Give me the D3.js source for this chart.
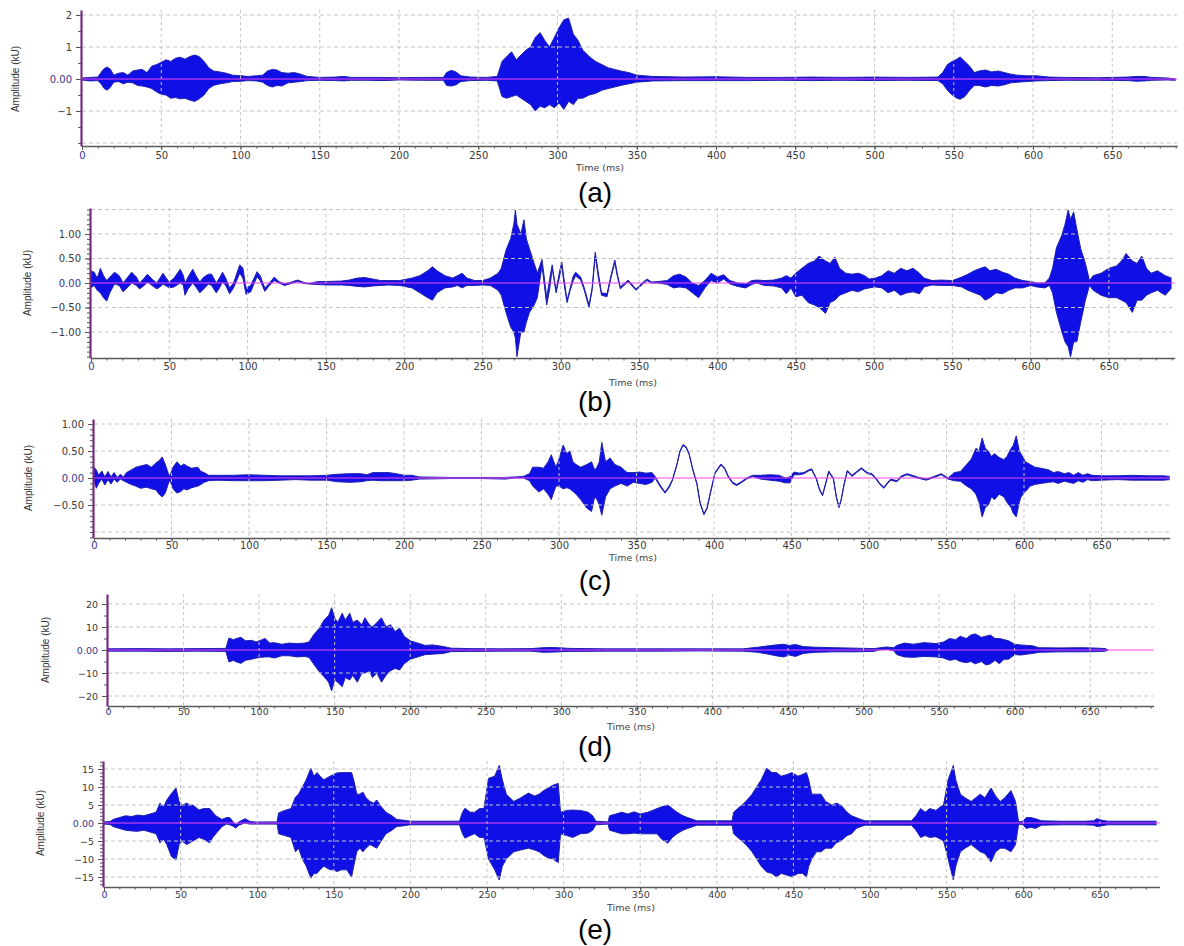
<!DOCTYPE html>
<html>
<head>
<meta charset="utf-8">
<script src="https://cdn.jsdelivr.net/npm/d3@7"></script>
<style>
  body { margin: 0; background: #fff; }
  svg { display: block; }
</style>
</head>
<body>
<div id="chart"></div>
<script>
// envelopes: [time ms, upper, lower]
var waveA = [
 [0,0.03,-0.03],[5,0.05,-0.06],[10,0.06,-0.05],[12,0.2,-0.15],[14,0.33,-0.3],[16,0.37,-0.35],[18,0.3,-0.25],[20,0.12,-0.1],[23,0.18,-0.08],[26,0.2,-0.15],[29,0.12,-0.1],[32,0.25,-0.12],[35,0.28,-0.2],[38,0.3,-0.22],[41,0.2,-0.25],[44,0.4,-0.3],[47,0.45,-0.4],[50,0.52,-0.48],[53,0.6,-0.5],[56,0.55,-0.6],[59,0.65,-0.58],[62,0.68,-0.62],[65,0.62,-0.6],[68,0.7,-0.66],[71,0.75,-0.7],[74,0.7,-0.62],[77,0.55,-0.5],[80,0.35,-0.3],[83,0.25,-0.2],[87,0.22,-0.15],[91,0.18,-0.12],[95,0.12,-0.08],[100,0.1,-0.07],[105,0.08,-0.05],[110,0.1,-0.06],[114,0.12,-0.1],[117,0.25,-0.2],[120,0.3,-0.25],[123,0.28,-0.2],[126,0.2,-0.22],[130,0.18,-0.12],[134,0.2,-0.1],[138,0.15,-0.08],[142,0.08,-0.05],[150,0.05,-0.04],[160,0.06,-0.05],[165,0.08,-0.06],[170,0.05,-0.04],[180,0.05,-0.04],[190,0.05,-0.05],[200,0.04,-0.03],[215,0.05,-0.04],[228,0.05,-0.04],[230,0.2,-0.2],[233,0.27,-0.22],[236,0.22,-0.18],[239,0.1,-0.08],[245,0.06,-0.05],[255,0.05,-0.04],[262,0.08,-0.06],[265,0.55,-0.55],[268,0.7,-0.6],[271,0.85,-0.55],[274,0.6,-0.5],[277,0.75,-0.6],[280,0.9,-0.7],[283,1.0,-0.8],[286,1.3,-1.0],[289,1.45,-0.85],[292,1.2,-0.9],[295,1.0,-0.8],[298,1.3,-0.9],[301,1.6,-0.75],[304,1.85,-0.95],[307,1.9,-0.7],[310,1.4,-0.8],[313,1.2,-0.6],[316,0.9,-0.6],[320,0.7,-0.5],[324,0.55,-0.45],[328,0.45,-0.35],[332,0.35,-0.3],[336,0.3,-0.25],[340,0.25,-0.2],[345,0.2,-0.15],[350,0.12,-0.1],[360,0.08,-0.06],[380,0.06,-0.05],[400,0.07,-0.05],[420,0.05,-0.05],[440,0.05,-0.04],[460,0.06,-0.05],[480,0.05,-0.04],[500,0.06,-0.05],[520,0.05,-0.04],[540,0.06,-0.05],[543,0.2,-0.15],[546,0.45,-0.35],[549,0.55,-0.5],[552,0.62,-0.6],[554,0.69,-0.63],[557,0.55,-0.55],[560,0.4,-0.35],[563,0.2,-0.2],[566,0.25,-0.2],[570,0.28,-0.25],[574,0.22,-0.2],[578,0.25,-0.22],[582,0.2,-0.18],[586,0.15,-0.12],[590,0.12,-0.1],[596,0.1,-0.08],[602,0.1,-0.06],[610,0.06,-0.05],[620,0.05,-0.04],[640,0.04,-0.04],[660,0.06,-0.05],[665,0.08,-0.07],[670,0.08,-0.06],[675,0.05,-0.04],[685,0.03,-0.03],[690,0.0,-0.04]
];

var waveB = [
 [0,0.25,-0.1],[2,0.22,-0.05],[4,0.1,-0.15],[6,0.3,-0.2],[8,0.15,-0.3],[10,0.05,-0.37],[12,0.12,-0.2],[15,0.22,-0.02],[18,0.15,-0.05],[20.5,0.0,-0.18],[23,0.1,-0.1],[26,0.22,0.0],[29,0.12,-0.05],[31,0.0,-0.12],[34,0.1,-0.05],[36,0.18,0.02],[39,0.08,-0.05],[42,0.0,-0.12],[44,0.1,-0.08],[46,0.2,-0.02],[48,0.1,-0.06],[50,0.02,-0.1],[53,0.1,-0.08],[57,0.28,0.0],[59,0.15,-0.05],[60,0.0,-0.25],[62,0.12,-0.12],[65,0.28,0.0],[67,0.15,-0.08],[69.5,0.02,-0.2],[72,0.12,-0.12],[75,0.18,-0.02],[77,0.18,-0.05],[80,0.0,-0.2],[82,0.1,-0.1],[84,0.22,0.02],[86,0.1,-0.05],[88.5,-0.1,-0.22],[91,0.0,-0.1],[95,0.37,0.2],[97,0.3,0.1],[99,-0.1,-0.23],[102,-0.05,-0.18],[106,0.23,0.13],[108,0.15,0.05],[111,-0.1,-0.17],[114,0.0,-0.05],[117,0.12,0.05],[120,0.03,0.0],[123.6,-0.02,-0.05],[128,0.02,-0.01],[132,0.06,0.03],[136,0.01,-0.01],[139,-0.01,-0.02],[145,0.03,-0.03],[150,0.03,-0.04],[160,0.04,-0.04],[165,0.06,-0.05],[170,0.1,-0.07],[175,0.11,-0.08],[180,0.08,-0.06],[185,0.05,-0.05],[190,0.05,-0.04],[197,0.05,-0.05],[205,0.1,-0.1],[210,0.15,-0.2],[215,0.25,-0.3],[218,0.33,-0.35],[221,0.25,-0.2],[226,0.15,-0.1],[231,0.1,-0.08],[234,0.15,-0.05],[237,0.2,-0.1],[240,0.1,-0.05],[245,0.05,-0.05],[250,0.05,-0.04],[255,0.1,-0.05],[260,0.2,-0.15],[262,0.3,-0.25],[265,0.67,-0.6],[268,0.91,-0.9],[270,1.2,-1.0],[271,1.49,-1.12],[272,1.2,-1.5],[274.5,1.0,-1.0],[276.5,1.29,-1.0],[278,0.9,-0.8],[280,0.7,-0.6],[283,0.4,-0.45],[285,0.2,-0.3],[288,0.48,0.35],[289.5,0.1,-0.05],[291,-0.3,-0.45],[293,0.1,-0.1],[294.5,0.37,0.3],[296,0.05,0.0],[297,-0.15,-0.2],[299,0.2,0.1],[300.6,0.43,0.35],[302,0.1,0.0],[304,-0.35,-0.4],[306,-0.1,-0.15],[308,0.15,0.05],[309.5,0.22,0.15],[312.7,0.12,0.06],[315,-0.1,-0.15],[318,-0.45,-0.5],[320,-0.1,-0.15],[322,0.63,0.55],[324,0.2,0.1],[326,-0.2,-0.25],[329.5,-0.22,-0.28],[332,0.15,0.1],[334.5,0.47,0.42],[336,0.2,0.15],[338,-0.08,-0.12],[343,0.06,0.03],[348,-0.12,-0.15],[352,0.0,-0.03],[355,0.08,0.05],[358,0.02,0.0],[362,0.03,0.0],[368,0.05,-0.03],[372,0.15,-0.1],[376,0.18,-0.08],[380,0.12,-0.1],[384,0.0,-0.2],[388,-0.05,-0.3],[392,0.05,-0.1],[396,0.2,0.05],[400,0.12,0.0],[404,0.17,0.08],[408,0.05,-0.02],[413,0.0,-0.07],[418,-0.02,-0.1],[422,0.05,-0.03],[425,0.06,0.0],[430,0.05,-0.05],[436,0.06,-0.06],[441,0.1,-0.1],[444,0.15,-0.22],[447,0.1,-0.1],[450,0.2,-0.28],[454,0.3,-0.25],[458,0.4,-0.4],[462,0.45,-0.45],[465,0.55,-0.5],[469,0.45,-0.62],[472,0.4,-0.4],[475,0.53,-0.35],[478,0.3,-0.25],[482,0.2,-0.2],[486,0.18,-0.15],[490,0.2,-0.18],[494,0.15,-0.12],[497,0.08,-0.1],[501,0.1,-0.08],[505,0.15,-0.1],[509,0.25,-0.2],[513,0.2,-0.15],[517,0.3,-0.25],[521,0.25,-0.2],[525,0.3,-0.18],[529,0.2,-0.22],[532,0.1,-0.08],[537,0.05,-0.04],[543,0.06,-0.05],[550,0.05,-0.05],[556,0.12,-0.08],[560,0.18,-0.15],[564,0.25,-0.2],[568,0.3,-0.25],[571,0.33,-0.35],[574,0.25,-0.3],[578,0.28,-0.2],[582,0.22,-0.22],[586,0.18,-0.15],[590,0.1,-0.1],[595,0.05,-0.1],[600,0.03,-0.05],[604,0.0,-0.08],[609,0.0,-0.1],[612,0.1,-0.05],[614,0.3,-0.2],[616.5,0.72,-0.6],[620,0.98,-1.0],[622,1.2,-1.2],[624,1.49,-1.3],[625.5,1.3,-1.51],[627.5,1.45,-1.2],[629.5,1.1,-1.2],[632,0.7,-0.8],[635,0.4,-0.35],[637.6,0.05,-0.05],[640,0.15,-0.15],[645,0.2,-0.25],[650,0.3,-0.3],[655,0.35,-0.3],[658,0.45,-0.35],[661,0.6,-0.4],[665,0.45,-0.6],[668,0.4,-0.35],[671,0.55,-0.35],[674,0.3,-0.25],[677,0.2,-0.2],[681,0.25,-0.15],[686,0.15,-0.25],[690,0.1,-0.1]
];

var waveC = [
 [0,0.2,-0.05],[1.5,0.15,-0.19],[3,0.05,-0.1],[5,0.13,-0.02],[7,0.02,-0.13],[9,0.12,-0.03],[11,0.02,-0.11],[13,0.1,-0.02],[15,0.01,-0.08],[17,0.07,-0.02],[19,0.02,-0.05],[21,0.1,-0.08],[24,0.15,-0.12],[27,0.2,-0.15],[30,0.22,-0.19],[34,0.25,-0.17],[37,0.2,-0.2],[40,0.28,-0.22],[42,0.32,-0.3],[44,0.39,-0.35],[46,0.25,-0.28],[48,0.08,-0.1],[49,0.04,-0.04],[51,0.2,-0.2],[53.5,0.3,-0.28],[56,0.22,-0.25],[58,0.26,-0.2],[60,0.22,-0.22],[63,0.18,-0.18],[67,0.2,-0.15],[69,0.12,-0.12],[71,0.1,-0.08],[74,0.05,-0.05],[80,0.05,-0.04],[90,0.05,-0.05],[100,0.06,-0.05],[110,0.05,-0.05],[120,0.04,-0.04],[130,0.04,-0.03],[140,0.04,-0.04],[150,0.05,-0.04],[157,0.07,-0.07],[165,0.08,-0.08],[172,0.08,-0.07],[176,0.06,-0.05],[180,0.1,-0.04],[185,0.1,-0.05],[190,0.1,-0.05],[195,0.08,-0.05],[200,0.05,-0.05],[205,0.05,-0.04],[210,0.02,-0.02],[230,0.01,-0.01],[250,0.01,-0.01],[265,0.01,-0.02],[272,0.02,0.0],[277,0.03,0.0],[281,0.08,-0.05],[283,0.2,-0.15],[287,0.2,-0.26],[290,0.18,-0.2],[293,0.3,-0.3],[295,0.43,-0.4],[298,0.2,-0.15],[300,0.35,-0.15],[302.7,0.61,-0.2],[305,0.45,-0.18],[307,0.5,-0.2],[309,0.3,-0.25],[311,0.25,-0.3],[314,0.2,-0.4],[318,0.25,-0.56],[321,0.3,-0.62],[323,0.15,-0.35],[324.5,0.2,-0.4],[326,0.3,-0.5],[327.6,0.66,-0.69],[330,0.3,-0.35],[333,0.37,-0.2],[336,0.25,-0.15],[340,0.2,-0.1],[344,0.1,-0.15],[348,0.1,-0.08],[352,0.11,-0.1],[356,0.09,-0.12],[360,0.1,-0.08],[362,0.03,0.0],[365,-0.12,-0.15],[368.4,-0.26,-0.28],[371,-0.15,-0.18],[373,-0.04,-0.06],[376,0.25,0.23],[378,0.5,0.48],[380,0.62,0.6],[382,0.58,0.56],[384,0.45,0.43],[386,0.2,0.18],[389,-0.1,-0.12],[391,-0.45,-0.47],[393.5,-0.66,-0.68],[395.5,-0.55,-0.57],[397.4,-0.3,-0.32],[400.6,0.1,0.08],[404.5,0.26,0.24],[407,0.18,0.16],[409,0.05,0.03],[412,-0.08,-0.1],[414.7,-0.12,-0.14],[418,-0.06,-0.08],[421,0.0,-0.02],[425,0.05,0.03],[430,0.05,-0.02],[436,0.06,-0.04],[442,0.05,-0.06],[446,0.0,-0.09],[449,0.02,-0.09],[451.6,0.11,0.06],[455,0.09,0.06],[458,0.1,0.08],[461,0.15,0.13],[463,0.17,0.15],[466,0.0,-0.02],[468,-0.2,-0.22],[470,-0.31,-0.33],[472,-0.1,-0.12],[474,0.13,0.11],[477,0.0,-0.02],[479,-0.35,-0.37],[480.6,-0.53,-0.55],[482,-0.4,-0.42],[484,-0.1,-0.12],[486,0.14,0.12],[489,0.05,0.03],[492,0.12,0.1],[495,0.19,0.17],[499,0.1,0.08],[502,0.08,0.06],[505,-0.02,-0.04],[507,-0.1,-0.12],[509.6,-0.17,-0.19],[512,-0.08,-0.1],[514,-0.02,-0.04],[518,-0.05,-0.07],[521,0.04,0.02],[524.5,0.08,0.06],[528,0.05,0.03],[531,0.02,0.0],[537,-0.02,-0.04],[542,0.03,0.01],[546.6,0.08,0.06],[551,0.0,-0.02],[555,0.1,-0.05],[559,0.12,-0.06],[563,0.25,-0.15],[566,0.35,-0.2],[569,0.55,-0.3],[571,0.5,-0.45],[573,0.74,-0.72],[575,0.55,-0.55],[577,0.5,-0.5],[579,0.4,-0.35],[581,0.45,-0.4],[584,0.38,-0.3],[587,0.34,-0.35],[589,0.4,-0.45],[591.7,0.55,-0.55],[593,0.6,-0.65],[595,0.78,-0.72],[597,0.5,-0.45],[598,0.45,-0.35],[601,0.3,-0.25],[604,0.25,-0.15],[607,0.2,-0.12],[611,0.18,-0.1],[616,0.15,-0.08],[619,0.1,-0.07],[622,0.12,-0.1],[626,0.08,-0.06],[629,0.1,-0.08],[632,0.05,-0.1],[635,0.1,-0.05],[638,0.05,-0.08],[641,0.08,-0.03],[644,0.05,-0.05],[650,0.04,-0.04],[660,0.04,-0.03],[670,0.05,-0.04],[680,0.04,-0.04],[690,0.04,-0.04],[694,0.03,-0.03]
];

var waveD = [
 [0,0.5,-0.5],[20,0.6,-0.5],[40,0.5,-0.6],[60,0.6,-0.5],[78,0.7,-0.6],[80,5.2,-5.2],[83,4.5,-4.5],[85,5.0,-5.2],[88,5.5,-5.8],[91,4.0,-4.5],[95,4.2,-4.0],[98,3.5,-3.5],[101,4.2,-3.2],[104,5.0,-3.0],[107,3.0,-3.0],[110,3.2,-3.5],[115,2.5,-2.5],[120,3.0,-2.5],[125,2.8,-3.0],[130,3.0,-2.8],[133,3.5,-3.2],[136,6.5,-6.0],[140,9.6,-9.6],[143,13.0,-11.6],[146,15.0,-14.0],[148,18.4,-17.8],[150,14.0,-13.0],[152,12.0,-14.0],[155,16.0,-16.0],[157,13.0,-12.0],[160,16.0,-13.0],[162,12.0,-11.0],[165,13.0,-14.0],[168,11.0,-10.0],[170,14.0,-10.0],[173,11.0,-9.0],[175,10.0,-12.0],[178,12.0,-10.0],[181,14.0,-14.0],[184,10.0,-11.0],[187,11.0,-9.0],[190,8.0,-8.0],[193,9.5,-8.7],[196,6.0,-6.0],[200,4.0,-4.0],[205,3.0,-3.0],[210,2.0,-2.0],[215,2.2,-1.8],[222,1.5,-1.5],[227,0.8,-0.7],[240,0.6,-0.6],[260,0.5,-0.5],[280,0.6,-0.5],[288,1.0,-1.0],[295,1.1,-0.9],[305,0.7,-0.6],[330,0.5,-0.5],[360,0.5,-0.5],[390,0.5,-0.4],[420,0.5,-0.5],[430,1.2,-1.0],[437,1.8,-1.8],[442,2.2,-2.5],[447,2.5,-3.0],[451,2.0,-2.2],[455,2.4,-2.8],[460,1.5,-1.5],[468,1.2,-1.0],[480,1.0,-0.8],[495,0.8,-0.8],[507,0.6,-0.6],[510,0.9,0.0],[515,1.3,0.3],[520,1.0,-0.3],[522,2.0,-2.0],[527,3.0,-3.0],[533,2.5,-3.2],[540,3.2,-2.8],[548,2.8,-3.0],[553,3.5,-3.5],[557,5.0,-4.5],[561,4.5,-4.0],[564,6.0,-5.0],[568,5.0,-5.5],[571,6.5,-5.0],[574,7.0,-6.0],[578,5.5,-5.0],[581,6.0,-6.5],[584,6.5,-6.0],[587,5.0,-4.5],[590,5.0,-6.0],[593,4.5,-4.0],[596,4.0,-4.0],[600,2.5,-2.0],[604,2.2,-2.2],[608,2.0,-1.8],[612,1.8,-1.5],[616,1.0,-1.0],[630,0.9,-0.8],[645,1.0,-0.8],[655,0.8,-0.7],[660,0.6,-0.5],[662,0.0,0.0]
];

var waveE = [
 [0,0.3,-0.3],[4,0.4,-0.4],[6,1.0,-1.0],[10,1.5,-1.5],[14,2.0,-2.0],[18,1.8,-2.2],[22,2.2,-2.3],[26,2.0,-2.0],[30,2.5,-2.5],[34,3.0,-3.0],[36.5,5.5,-5.5],[39,4.5,-4.5],[41,6.4,-6.0],[44,8.2,-9.3],[47,9.7,-10.3],[49,6.0,-6.0],[51,5.0,-5.0],[54,5.5,-6.0],[56,5.0,-5.5],[58,5.0,-5.0],[62,3.6,-4.0],[65,4.0,-4.5],[69,4.0,-5.5],[71,3.0,-4.0],[73,2.0,-3.0],[77,1.0,-1.0],[80,1.5,-0.3],[82,1.5,-0.5],[84,0.5,-0.8],[86,-0.5,-1.4],[88,0.3,-0.6],[92,1.2,0.0],[95,0.5,-0.3],[98,0.3,-0.3],[105,0.3,-0.3],[113,0.3,-0.3],[114,2.8,-3.0],[118,3.5,-3.5],[122,4.0,-4.0],[125,7.2,-8.0],[127,8.0,-7.0],[129.5,10.0,-10.0],[132,12.0,-12.0],[135,15.2,-15.3],[137,13.0,-14.0],[139,14.0,-14.0],[141,13.0,-13.0],[143.5,12.0,-12.0],[145.5,12.5,-12.5],[147.6,13.0,-13.0],[150,13.5,-13.0],[152,13.9,-13.5],[155,14.0,-13.0],[158.5,14.0,-13.0],[161.6,14.0,-15.0],[163,12.0,-12.0],[165,8.0,-8.0],[167,8.0,-7.0],[169,8.6,-8.0],[171,7.0,-7.0],[173.6,6.0,-6.0],[176,5.5,-6.5],[178,6.4,-7.0],[181,4.5,-5.0],[184,3.0,-3.0],[188,2.0,-2.0],[191,1.0,-1.0],[195,0.8,-0.8],[200,0.5,-0.5],[215,0.5,-0.5],[232,0.5,-0.5],[234,3.0,-3.0],[235.6,4.1,-4.2],[239,3.0,-3.5],[242,3.0,-3.0],[245,4.0,-4.0],[248,4.0,-4.0],[251,12.4,-10.0],[255,13.0,-13.0],[258,16.0,-15.8],[260,12.0,-12.0],[262.6,8.0,-10.0],[265,7.0,-9.0],[267.5,6.0,-8.0],[272,7.0,-7.5],[277,8.3,-7.0],[281,7.5,-7.5],[284,8.0,-8.0],[287,9.0,-9.0],[290,9.7,-9.7],[293,10.5,-10.0],[296.5,11.0,-11.0],[298,3.0,-3.0],[302,3.5,-3.5],[306,3.6,-4.0],[311,3.5,-3.0],[316,3.0,-2.8],[319,2.0,-2.0],[321,0.5,-0.5],[329,0.3,-0.3],[330,2.0,-2.0],[334,2.5,-2.5],[338,3.0,-3.0],[342,2.5,-3.0],[346,3.1,-2.8],[350,2.5,-3.0],[355,3.0,-3.0],[358,3.5,-3.0],[361,4.0,-3.0],[364,4.5,-4.5],[368,5.0,-5.6],[371,4.0,-4.0],[374,3.0,-3.0],[378,2.0,-2.0],[381,1.5,-1.5],[387,0.6,-0.6],[400,0.6,-0.6],[410,0.6,-0.6],[411,3.0,-3.0],[415,4.5,-4.5],[419,6.0,-6.0],[423,8.0,-8.0],[426,10.0,-10.0],[429,12.0,-12.0],[432.5,15.2,-13.6],[436,14.0,-14.0],[439,14.0,-15.0],[442,13.0,-14.0],[446,13.5,-14.5],[449,14.0,-15.0],[453,13.0,-14.0],[456,13.5,-14.0],[458.5,14.0,-15.0],[460,12.0,-12.0],[462,8.0,-10.0],[465,8.0,-8.0],[468,8.0,-8.0],[471,6.0,-7.0],[475,5.0,-7.0],[478,5.5,-5.5],[481,5.0,-5.0],[485,3.0,-3.5],[488,2.0,-3.0],[491,1.5,-1.5],[494,1.0,-1.0],[497,0.6,-0.6],[515,0.6,-0.6],[527,0.6,-0.6],[530,2.0,-2.0],[533,4.0,-4.0],[536,3.0,-3.5],[539,4.0,-4.0],[543,3.5,-3.8],[546,4.5,-4.5],[548,5.0,-5.0],[551,12.0,-10.0],[554.4,16.0,-15.8],[556,12.0,-12.0],[559,8.0,-8.0],[562,7.0,-7.0],[566,6.0,-6.0],[569,7.0,-7.0],[572,8.0,-8.0],[575,7.0,-8.5],[579,9.7,-10.8],[582,7.5,-8.0],[585,6.0,-7.0],[588,7.0,-7.0],[592,9.0,-8.0],[595,6.0,-6.0],[597,0.3,-0.3],[600,0.5,-0.5],[602,1.5,-1.5],[605,1.5,-1.2],[608,1.2,-1.5],[612,0.6,-0.6],[625,0.5,-0.5],[640,0.5,-0.5],[646,0.6,-0.6],[648,1.2,-1.0],[651,0.8,-0.8],[655,0.5,-0.5],[670,0.5,-0.5],[687,0.5,-0.5]
];

// y tick values with labels, and the dashed grid levels
var yTicksA = [2, 1, 0, -1];
var yTicksB = [1, 0.5, 0, -0.5, -1];
var yTicksC = [1, 0.5, 0, -0.5];
var yTicksD = [20, 10, 0, -10, -20];
var yTicksE = [15, 10, 5, 0, -5, -10, -15];
var gridA = [2, 1, 0, -1, -2];
var gridB = [1.5, 1, 0.5, 0, -0.5, -1];
var gridC = [1, 0.5, 0, -0.5, -1];
var gridD = [20, 10, 0, -10, -20];
var gridE = [15, 10, 5, 0, -5, -10, -15];

var xTicks = [0, 50, 100, 150, 200, 250, 300, 350, 400, 450, 500, 550, 600, 650];
var captions = ["(a)", "(b)", "(c)", "(d)", "(e)"];
var yTitle = "Amplitude (kU)";
var xTitle = "Time (ms)";

var W = 1184, H = 946;
var svg = d3.select("#chart").append("svg")
    .attr("width", W)
    .attr("height", H)
    .style("background", "#fff");

// where each panel sits on the page
var panels = [
  {wave: waveA, ticks: yTicksA, grid: gridA, minor: 0.5, fmt: "int", fs: 10, pad: 2,
   x0: 82, ppm: 1.585, msEnd: 691, y0: 79, ppu: 32, top: 10, bottom: 146,
   titleX: 15, timeX: 600, timeY: 171, capY: 202},
  {wave: waveB, ticks: yTicksB, grid: gridB, minor: 0.1, fmt: "dec", fs: 10, pad: 1,
   x0: 91, ppm: 1.566, msEnd: 692, y0: 283, ppu: 49, top: 208, bottom: 358,
   titleX: 27, timeX: 633, timeY: 386, capY: 411},
  {wave: waveC, ticks: yTicksC, grid: gridC, minor: 0.1, fmt: "dec", fs: 10, pad: 0,
   x0: 94, ppm: 1.55, msEnd: 694, y0: 478, ppu: 54, top: 419, bottom: 538,
   titleX: 28, timeX: 633, timeY: 561, capY: 590},
  {wave: waveD, ticks: yTicksD, grid: gridD, minor: 5, fmt: "int", fs: 9.5, pad: -1.5,
   x0: 108, ppm: 1.511, msEnd: 692, y0: 650, ppu: 2.3, top: 594, bottom: 706,
   titleX: 45, timeX: 631, timeY: 730, capY: 756},
  {wave: waveE, ticks: yTicksE, grid: gridE, minor: 1, fmt: "int", fs: 9.5, pad: 0,
   x0: 104, ppm: 1.532, msEnd: 689, y0: 823, ppu: 3.6, top: 761, bottom: 887,
   titleX: 40, timeX: 631, timeY: 911, capY: 939}
];

var tickFont = "DejaVu Sans, Verdana, sans-serif";

panels.forEach(function(p, i) {
    var g = svg.append("g");

    var x = d3.scaleLinear()
        .domain([0, p.msEnd])
        .range([p.x0, p.x0 + p.msEnd * p.ppm]);
    var y = d3.scaleLinear()
        .domain([(p.y0 - p.bottom) / p.ppu, (p.y0 - p.top) / p.ppu])
        .range([p.bottom, p.top]);
    var xEnd = x(p.msEnd);

    // waveform envelope
    var area = d3.area()
        .x(function(d) { return x(d[0]); })
        .y0(function(d) { return y(d[2]); })
        .y1(function(d) { return y(d[1]); });
    g.append("path")
        .datum(p.wave)
        .attr("d", area)
        .attr("fill", "#0f0fe6")
        .attr("stroke", "none");
    ["hi", "lo"].forEach(function(k) {
        g.append("path")
            .datum(p.wave)
            .attr("d", d3.line()
                .x(function(d) { return x(d[0]); })
                .y(function(d) { return y(k == "hi" ? d[1] : d[2]); }))
            .attr("fill", "none")
            .attr("stroke", "#2020b0")
            .attr("stroke-width", 1);
    });

    // dashed grid, drawn over the signal like the original
    g.selectAll(".hgrid")
        .data(p.grid.filter(function(v) { return v != 0; }))
        .enter().append("line")
        .attr("x1", p.x0).attr("x2", xEnd)
        .attr("y1", function(d) { return y(d); })
        .attr("y2", function(d) { return y(d); })
        .attr("stroke", "#c4c4c4")
        .attr("stroke-width", 1)
        .attr("stroke-dasharray", "4,3");
    g.selectAll(".vgrid")
        .data(xTicks.filter(function(v) { return v > 0; }))
        .enter().append("line")
        .attr("x1", function(d) { return x(d); })
        .attr("x2", function(d) { return x(d); })
        .attr("y1", p.top).attr("y2", p.bottom)
        .attr("stroke", "#c4c4c4")
        .attr("stroke-width", 1)
        .attr("stroke-dasharray", "3,3");

    // zero line
    g.append("line")
        .attr("x1", p.x0).attr("x2", xEnd)
        .attr("y1", y(0)).attr("y2", y(0))
        .attr("stroke", "#f048f0")
        .attr("stroke-width", 1.2);

    // minor ticks on y
    var yd = y.domain();
    var minorVals = d3.range(Math.ceil(yd[0] / p.minor - 1e-6) * p.minor, yd[1] + 1e-9, p.minor);
    g.append("g")
        .attr("transform", "translate(" + (p.x0 - 1) + ",0)")
        .call(d3.axisLeft(y).tickValues(minorVals).tickSize(3).tickSizeOuter(0).tickFormat(""))
        .call(function(s) {
            s.select(".domain").remove();
            s.selectAll("line").attr("stroke", "#555");
        });

    // y axis
    var fmt = function(v) {
        if (v == 0) return "0.00";
        return p.fmt == "dec" ? d3.format(".2f")(v) : d3.format("d")(v);
    };
    var yAxis = g.append("g")
        .attr("transform", "translate(" + (p.x0 - 1) + ",0)")
        .call(d3.axisLeft(y).tickValues(p.ticks).tickFormat(fmt).tickSize(5).tickSizeOuter(0).tickPadding(4));
    yAxis.select(".domain").attr("stroke", "#7a2a82").attr("stroke-width", 2.2);
    yAxis.selectAll(".tick line").attr("stroke", "#555");
    yAxis.selectAll(".tick text")
        .attr("font-family", tickFont)
        .attr("font-size", p.fs)
        .attr("fill", function(d) { return d == 0 ? "#35358f" : "#3a3a3a"; });

    // x axis, minor every 10 ms
    g.append("g")
        .attr("transform", "translate(0," + p.bottom + ")")
        .call(d3.axisBottom(x).tickValues(d3.range(0, p.msEnd, 10)).tickSize(2.5).tickSizeOuter(0).tickFormat(""))
        .call(function(s) {
            s.select(".domain").remove();
            s.selectAll("line").attr("stroke", "#555");
        });
    var xAxis = g.append("g")
        .attr("transform", "translate(0," + p.bottom + ")")
        .call(d3.axisBottom(x).tickValues(xTicks).tickSize(4).tickSizeOuter(0).tickPadding(p.pad));
    xAxis.select(".domain").attr("stroke", "#5a5a5a").attr("stroke-width", 1.3);
    xAxis.selectAll(".tick line").attr("stroke", "#555");
    xAxis.selectAll(".tick text")
        .attr("font-family", tickFont)
        .attr("font-size", p.fs)
        .attr("fill", function(d) { return d == 0 ? "#35358f" : "#3a3a3a"; });

    // titles
    g.append("text")
        .attr("transform", "translate(" + p.titleX + "," + p.y0 + ") rotate(-90)")
        .attr("text-anchor", "middle")
        .attr("dy", "0.35em")
        .attr("font-family", "Liberation Sans Narrow, Arial Narrow, Liberation Sans, sans-serif")
        .attr("font-size", 10)
        .attr("fill", "#333")
        .text(yTitle);
    g.append("text")
        .attr("x", p.timeX)
        .attr("y", p.timeY)
        .attr("text-anchor", "middle")
        .attr("font-family", tickFont)
        .attr("font-size", 9.5)
        .attr("fill", "#444")
        .text(xTitle);
    g.append("text")
        .attr("x", 595)
        .attr("y", p.capY)
        .attr("text-anchor", "middle")
        .attr("font-family", "Liberation Sans, Arial, sans-serif")
        .attr("font-size", 28)
        .attr("fill", "#000")
        .text(captions[i]);
});
</script>
</body>
</html>
